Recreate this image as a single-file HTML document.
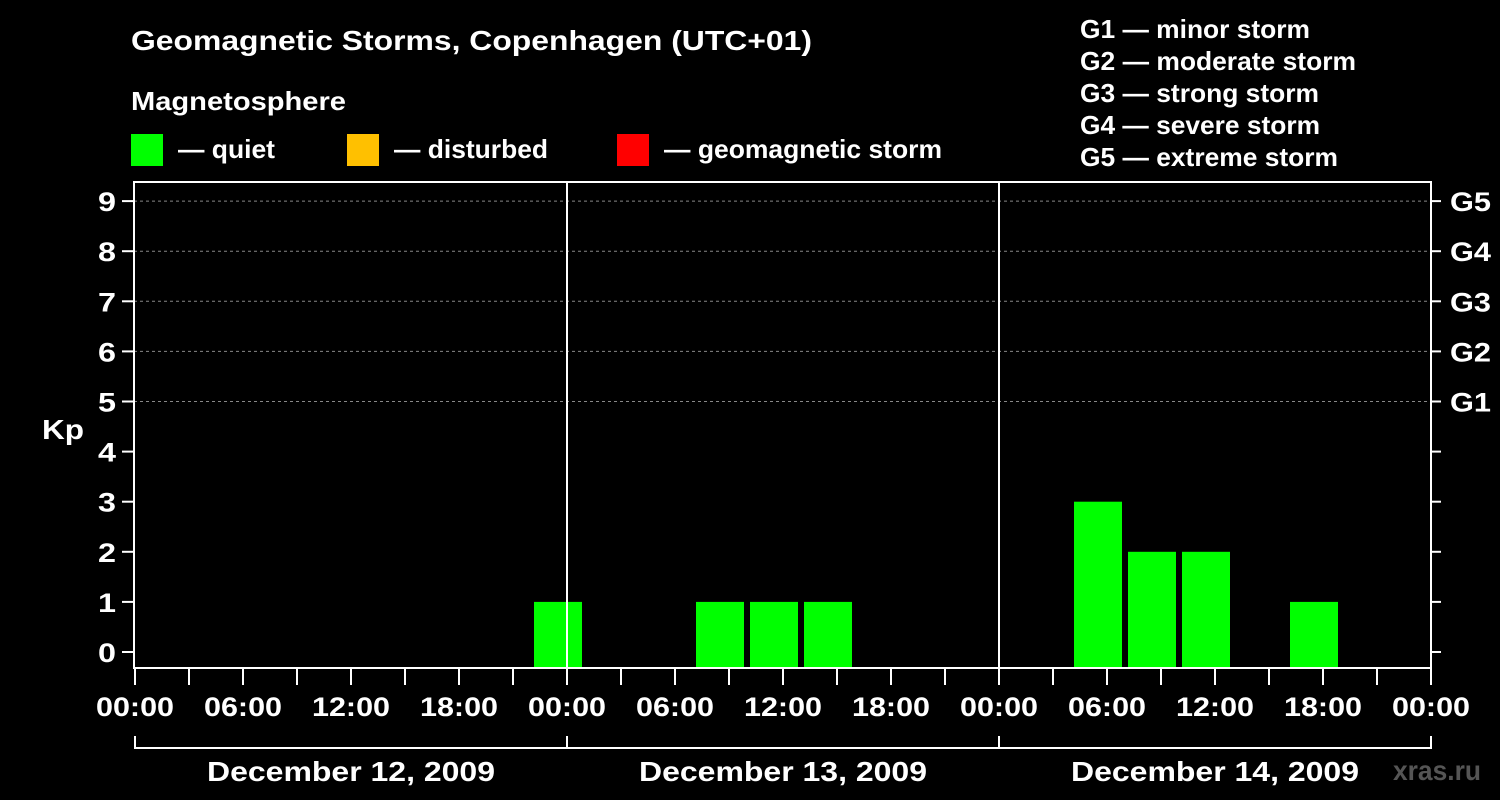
<!DOCTYPE html>
<html><head><meta charset="utf-8"><style>
html,body{margin:0;padding:0;background:#000;}
svg{display:block;font-family:"Liberation Sans",Arial,sans-serif;font-weight:bold;}
</style></head><body>
<svg id="chart" width="1500" height="800" viewBox="0 0 1500 800">
<text x="131" y="50" fill="#fff" font-size="28" textLength="681" lengthAdjust="spacingAndGlyphs">Geomagnetic Storms, Copenhagen (UTC+01)</text>
<text x="131" y="110" fill="#fff" font-size="26" textLength="215" lengthAdjust="spacingAndGlyphs">Magnetosphere</text>
<rect x="131" y="134" width="32" height="32" fill="#00ff00"/>
<text x="178" y="158" fill="#fff" font-size="26" textLength="97" lengthAdjust="spacingAndGlyphs">— quiet</text>
<rect x="347" y="134" width="32" height="32" fill="#ffc000"/>
<text x="394" y="158" fill="#fff" font-size="26" textLength="154" lengthAdjust="spacingAndGlyphs">— disturbed</text>
<rect x="617" y="134" width="32" height="32" fill="#ff0000"/>
<text x="664" y="158" fill="#fff" font-size="26" textLength="278" lengthAdjust="spacingAndGlyphs">— geomagnetic storm</text>
<g fill="#fff" font-size="26">
<text x="1080" y="38" textLength="230" lengthAdjust="spacingAndGlyphs">G1 — minor storm</text>
<text x="1080" y="70" textLength="276" lengthAdjust="spacingAndGlyphs">G2 — moderate storm</text>
<text x="1080" y="102" textLength="239" lengthAdjust="spacingAndGlyphs">G3 — strong storm</text>
<text x="1080" y="134" textLength="240" lengthAdjust="spacingAndGlyphs">G4 — severe storm</text>
<text x="1080" y="166" textLength="258" lengthAdjust="spacingAndGlyphs">G5 — extreme storm</text>
</g>
<text x="42" y="439" fill="#fff" font-size="28" textLength="42" lengthAdjust="spacingAndGlyphs">Kp</text>
<text x="1393" y="780" fill="#555" font-size="28" textLength="88" lengthAdjust="spacingAndGlyphs">xras.ru</text>
<g id="plot"></g>
</svg>
<script>
const kpValues = [0,0,0,0,0,0,0,1, 0,0,1,1,1,0,0,0, 0,3,2,2,0,1,0,0];
const yTicks = [0,1,2,3,4,5,6,7,8,9];
const gLabels = ['G1','G2','G3','G4','G5'];
const xTickLabels = ['00:00','06:00','12:00','18:00','00:00','06:00','12:00','18:00','00:00','06:00','12:00','18:00','00:00'];
const dayLabels = ['December 12, 2009','December 13, 2009','December 14, 2009'];

const NS='http://www.w3.org/2000/svg';
const g=document.getElementById('plot');
const L=134,R=1431,T=182,B=668,X0=135,HOUR=18;
const y=v=>652-v*50.1;
const x=h=>X0+h*HOUR;
function mk(tag,attrs,parent){const e=document.createElementNS(NS,tag);for(const k in attrs)e.setAttribute(k,attrs[k]);(parent||g).appendChild(e);return e;}
yTicks.forEach(v=>{
  if(v>=5){const l=mk('line',{x1:L,x2:R,y1:y(v),y2:y(v),stroke:'#888','stroke-dasharray':'3,3','stroke-width':1});
  
  }
  const t=mk('line',{x1:L-12,x2:L,y1:y(v),y2:y(v),stroke:'#fff','stroke-width':2});
  
  
  const rt=mk('line',{x1:R,x2:R+10,y1:y(v),y2:y(v),stroke:'#fff','stroke-width':2});
  
  
  const tx=mk('text',{x:L-18,y:y(v)+10,fill:'#fff','font-size':27,'text-anchor':'end',textLength:18,lengthAdjust:'spacingAndGlyphs'});
  tx.textContent=v;
  
  
});
gLabels.forEach((s,i)=>{
  const tx=mk('text',{x:R+19,y:y(5+i)+10,fill:'#fff','font-size':27,textLength:41,lengthAdjust:'spacingAndGlyphs'});
  tx.textContent=s;
  
  
});
kpValues.forEach((v,i)=>{
  if(v<=0)return;
  const h0=1+3*i;
  const r=mk('rect',{x:x(h0)+3,y:y(v),width:48,height:y(0)-y(v)+16,fill:'#00ff00'});
  
  
});
[1,2].forEach(d=>{
  const l=mk('line',{x1:x(24*d),x2:x(24*d),y1:T,y2:B,stroke:'#fff','stroke-width':2});
  
  
});
const f=mk('rect',{x:L,y:T,width:R-L,height:B-T,fill:'none',stroke:'#fff','stroke-width':2});


for(let h=0;h<=72;h+=3){
  const t=mk('line',{x1:x(h),x2:x(h),y1:B,y2:B+17,stroke:'#fff','stroke-width':2});
  
  
}
xTickLabels.forEach((s,i)=>{
  const tx=mk('text',{x:x(i*6),y:716,fill:'#fff','font-size':27,'text-anchor':'middle',textLength:78,lengthAdjust:'spacingAndGlyphs'});
  tx.textContent=s;
  
  
});
const bl=mk('line',{x1:x(0),x2:x(72),y1:748,y2:748,stroke:'#fff','stroke-width':2});


[0,1,2,3].forEach(d=>{
  const l=mk('line',{x1:x(24*d),x2:x(24*d),y1:736,y2:749,stroke:'#fff','stroke-width':2});
  
  
});
dayLabels.forEach((s,i)=>{
  const tx=mk('text',{x:x(24*i+12),y:781,fill:'#fff','font-size':28,'text-anchor':'middle',textLength:288,lengthAdjust:'spacingAndGlyphs'});
  tx.textContent=s;
  
  
});
</script>
</body></html>
